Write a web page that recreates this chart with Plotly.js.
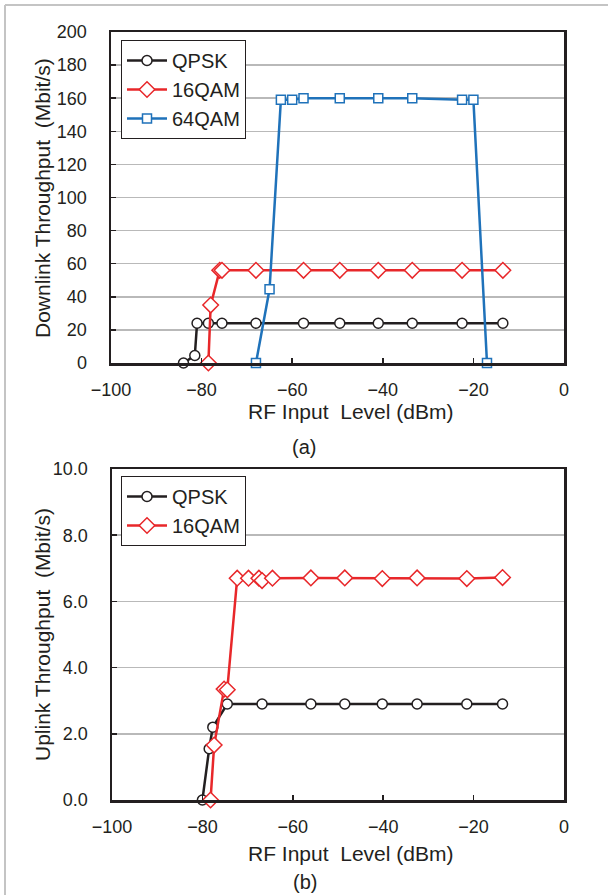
<!DOCTYPE html>
<html>
<head>
<meta charset="utf-8">
<script src="https://cdn.plot.ly/plotly-3.0.1.min.js"></script>
<style>
html,body{margin:0;padding:0;background:#fff;}
#chart{width:608px;height:895px;}
</style>
</head>
<body>
<div id="chart"></div>
<script>
// ---- Data ----
// (a) Downlink
const dlQpskX  = [-84, -81.5, -81, -78.5, -75.5, -68, -57.5, -49.5, -41, -33.5, -22.5, -13.5];
const dlQpskY  = [0, 4.5, 24, 24, 24, 24, 24, 24, 24, 24, 24, 24];
const dl16qX   = [-78.5, -78, -76, -75.5, -68, -57.5, -49.5, -41, -33.5, -22.5, -13.5];
const dl16qY   = [0, 35, 56, 56, 56, 56, 56, 56, 56, 56, 56];
const dl64qX   = [-68, -65, -62.5, -60, -57.5, -49.5, -41, -33.5, -22.5, -20, -17];
const dl64qY   = [0, 44.5, 159, 159, 160, 160, 160, 160, 159, 159, 0];
// (b) Uplink
const ulQpskX  = [-80, -78.5, -77.7, -74.5, -66.8, -56, -48.5, -40.2, -32.5, -21.5, -13.6];
const ulQpskY  = [0, 1.55, 2.2, 2.9, 2.9, 2.9, 2.9, 2.9, 2.9, 2.9, 2.9];
const ul16qX   = [-78.2, -77.4, -75.2, -74.5, -72.3, -69.8, -67.5, -66.8, -64.5, -56, -48.5, -40.2, -32.5, -21.5, -13.6];
const ul16qY   = [0, 1.66, 3.35, 3.33, 6.70, 6.70, 6.70, 6.63, 6.70, 6.71, 6.71, 6.69, 6.71, 6.69, 6.72];

const seriesNames = ['QPSK', '16QAM', '64QAM'];
const xTickVals = [-100, -80, -60, -40, -20, 0];
const dlTickVals = [0, 20, 40, 60, 80, 100, 120, 140, 160, 180, 200];
const ulTickVals = [0, 2, 4, 6, 8, 10];
const ulTickText = ['0.0', '2.0', '4.0', '6.0', '8.0', '10.0'];
const xTitle = 'RF Input\u00a0 Level (dBm)';
const dlTitle = 'Downlink Throughput\u00a0 (Mbit/s)';
const ulTitle = 'Uplink Throughput\u00a0 (Mbit/s)';

// ---- Styling ----
const W = 608, H = 895;
const FONT = 'Liberation Sans, Arial, sans-serif';
const INK = '#231f20';
const BLACK = '#231f20', RED = '#e8272a', BLUE = '#1f72ba';
const GRID = '#b9b9b9';

function tr(x, y, name, color, symbol, size, xa, ya, leg) {
  return {
    x: x, y: y, name: name, type: 'scatter', mode: 'lines+markers',
    xaxis: xa, yaxis: ya, legend: leg, showlegend: true, cliponaxis: false,
    line: {color: color, width: 2.5},
    marker: {symbol: symbol, size: size, color: '#ffffff', line: {color: color, width: 1.5}}
  };
}

const traces = [
  tr(dlQpskX, dlQpskY, seriesNames[0], BLACK, 'circle', 10, 'x', 'y', 'legend'),
  tr(dl16qX, dl16qY, seriesNames[1], RED, 'diamond', 12, 'x', 'y', 'legend'),
  tr(dl64qX, dl64qY, seriesNames[2], BLUE, 'square', 9, 'x', 'y', 'legend'),
  tr(ulQpskX, ulQpskY, seriesNames[0], BLACK, 'circle', 10, 'x2', 'y2', 'legend2'),
  tr(ul16qX, ul16qY, seriesNames[1], RED, 'diamond', 12, 'x2', 'y2', 'legend2')
];

function px(v) { return v / W; }
function py(v) { return 1 - v / H; }

const xCommon = {
  range: [-100, 0], tickvals: xTickVals, ticks: 'inside', ticklen: 5, tickwidth: 1.5, tickcolor: INK,
  showgrid: false, zeroline: false, showline: true, mirror: true, linecolor: INK, linewidth: 2.5,
  tickfont: {family: FONT, size: 18, color: INK}, ticklabelstandoff: 9
};
const yCommon = {
  ticks: 'inside', ticklen: 5, tickwidth: 1.5, tickcolor: INK,
  showgrid: true, gridcolor: GRID, gridwidth: 1.5, zeroline: false,
  showline: true, mirror: true, linecolor: INK, linewidth: 2.5,
  tickfont: {family: FONT, size: 18, color: INK}, ticklabelstandoff: 18
};

const legCommon = {
  xanchor: 'left', yanchor: 'top', bgcolor: '#ffffff', bordercolor: INK, borderwidth: 1,
  font: {family: FONT, size: 20, color: INK}, tracegroupgap: 0, itemwidth: 40
};

const layout = {
  width: W, height: H, margin: {l: 0, r: 0, t: 0, b: 0},
  paper_bgcolor: '#ffffff', plot_bgcolor: '#ffffff',
  font: {family: FONT, color: INK},
  xaxis: Object.assign({}, xCommon, {domain: [px(111), px(564)], anchor: 'y'}),
  yaxis: Object.assign({}, yCommon, {domain: [py(363), py(32)], range: [0, 200], tickvals: dlTickVals, anchor: 'x'}),
  xaxis2: Object.assign({}, xCommon, {domain: [px(112), px(564)], anchor: 'y2'}),
  yaxis2: Object.assign({}, yCommon, {domain: [py(800), py(469)], range: [0, 10], tickvals: ulTickVals, ticktext: ulTickText, anchor: 'x2'}),
  legend: Object.assign({}, legCommon, {x: px(121), y: py(40)}),
  legend2: Object.assign({}, legCommon, {x: px(121), y: py(476)}),
  annotations: [
    {text: xTitle, xref: 'paper', yref: 'paper', x: px(350), y: py(412), showarrow: false, xanchor: 'center', yanchor: 'middle', font: {family: FONT, size: 21, color: INK}},
    {text: xTitle, xref: 'paper', yref: 'paper', x: px(350), y: py(853), showarrow: false, xanchor: 'center', yanchor: 'middle', font: {family: FONT, size: 21, color: INK}},
    {text: '(a)', xref: 'paper', yref: 'paper', x: px(304), y: py(447), showarrow: false, xanchor: 'center', yanchor: 'middle', font: {family: FONT, size: 20, color: INK}},
    {text: '(b)', xref: 'paper', yref: 'paper', x: px(305), y: py(882), showarrow: false, xanchor: 'center', yanchor: 'middle', font: {family: FONT, size: 20, color: INK}},
    {text: dlTitle, xref: 'paper', yref: 'paper', x: px(42), y: py(198), showarrow: false, textangle: -90, xanchor: 'center', yanchor: 'middle', font: {family: FONT, size: 21, color: INK}},
    {text: ulTitle, xref: 'paper', yref: 'paper', x: px(42), y: py(635), showarrow: false, textangle: -90, xanchor: 'center', yanchor: 'middle', font: {family: FONT, size: 21, color: INK}}
  ],
  shapes: [
    {type: 'line', xref: 'paper', yref: 'paper', x0: px(5), x1: 1, y0: py(5), y1: py(5), line: {color: '#c4c4c4', width: 2}},
    {type: 'line', xref: 'paper', yref: 'paper', x0: px(5), x1: px(5), y0: py(5), y1: 0, line: {color: '#c4c4c4', width: 2}}
  ]
};

Plotly.newPlot('chart', traces, layout, {displayModeBar: false, staticPlot: true});
</script>
</body>
</html>
